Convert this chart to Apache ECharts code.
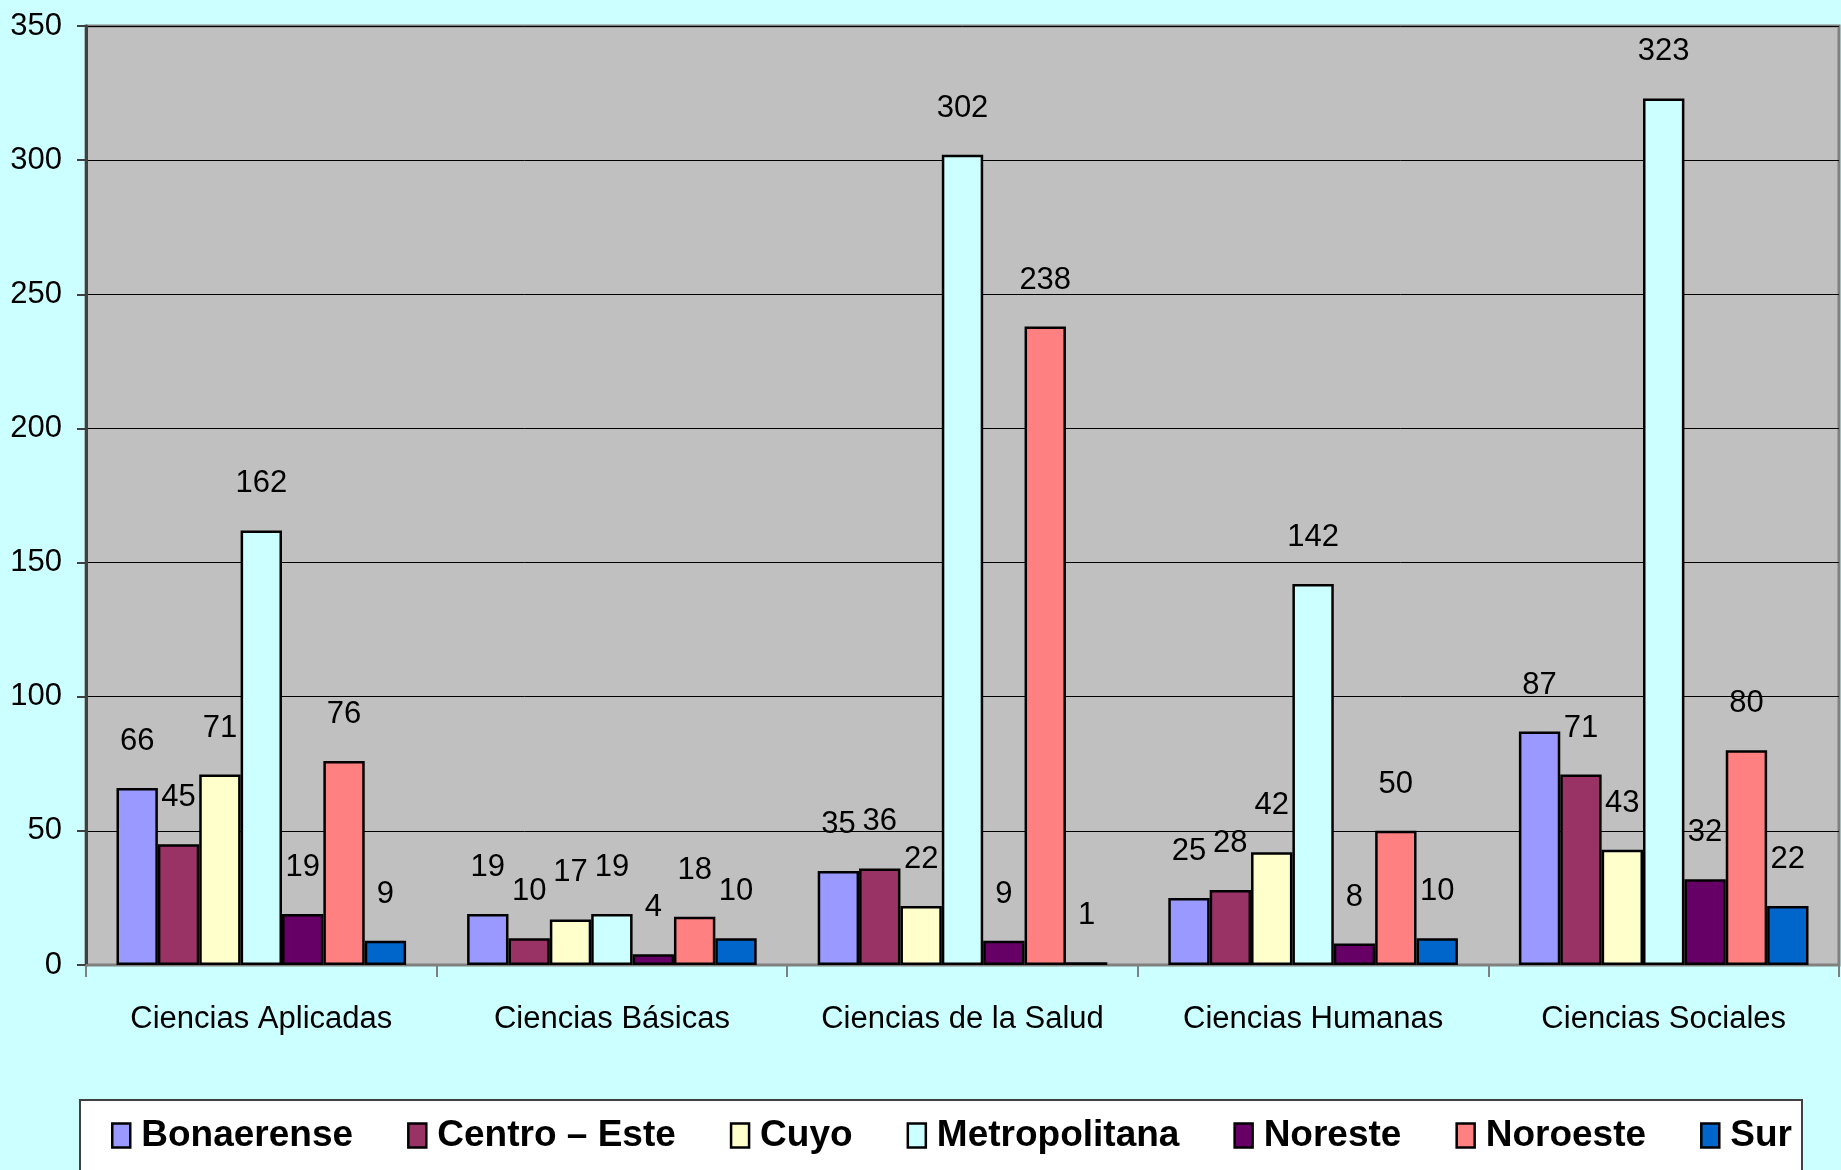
<!DOCTYPE html>
<html>
<head>
<meta charset="utf-8">
<script src="https://cdn.jsdelivr.net/npm/echarts@6/dist/echarts.min.js"></script>
<style>
html,body{margin:0;padding:0;background:#CCFFFF;}
#c{width:1841px;height:1170px;}
</style>
</head>
<body>
<div id="c"></div>
<script>
const categories = ['Ciencias Aplicadas', 'Ciencias Básicas', 'Ciencias de la Salud', 'Ciencias Humanas', 'Ciencias Sociales'];
const seriesNames = ['Bonaerense', 'Centro – Este', 'Cuyo', 'Metropolitana', 'Noreste', 'Noroeste', 'Sur'];
const bonaerense = [66, 19, 35, 25, 87];
const centroEste = [45, 10, 36, 28, 71];
const cuyo = [71, 17, 22, 42, 43];
const metropolitana = [162, 19, 302, 142, 323];
const noreste = [19, 4, 9, 8, 32];
const noroeste = [76, 18, 238, 50, 80];
const sur = [9, 10, 1, 10, 22];
const yTicks = [0, 50, 100, 150, 200, 250, 300, 350];

const seriesValues = [bonaerense, centroEste, cuyo, metropolitana, noreste, noroeste, sur];
const colors = ['#9999FF', '#993366', '#FFFFCC', '#CCFFFF', '#660066', '#FF8080', '#0066CC'];
const FONT = "'Liberation Sans Narrow', 'Arial Narrow', 'Liberation Sans', Arial, sans-serif";

const chart = echarts.init(document.getElementById('c'), null, {renderer: 'canvas'});
chart.setOption({
  backgroundColor: '#CCFFFF',
  animation: false,
  color: colors,
  graphic: [{
    type: 'rect',
    shape: {x: 80, y: 1100, width: 1722, height: 90},
    style: {fill: '#FFFFFF', stroke: '#404040', lineWidth: 2},
    z: 0
  }],
  grid: {
    left: 86, right: 2, top: 26, bottom: 205,
    containLabel: false,
    show: true,
    backgroundColor: '#C0C0C0',
    borderColor: '#808080',
    borderWidth: 3
  },
  legend: {
    data: seriesNames,
    left: 106,
    top: 1112,
    itemGap: 54,
    itemWidth: 18,
    itemHeight: 24,
    icon: 'rect',
    itemStyle: {borderColor: '#000', borderWidth: 2.5},
    textStyle: {fontFamily: FONT, fontWeight: 'bold', fontSize: 37, color: '#000', padding: [0, 0, 0, 6]},
    z: 5
  },
  xAxis: {
    type: 'category',
    data: categories,
    axisLine: {show: true, lineStyle: {color: '#808080', width: 2}},
    axisTick: {show: true, length: 12, interval: 0, lineStyle: {color: '#808080', width: 2}},
    axisLabel: {fontFamily: FONT, fontSize: 31, color: '#000', margin: 39, interval: 0},
    splitLine: {show: false}
  },
  yAxis: {
    type: 'value',
    min: 0, max: 350, interval: 50,
    axisLine: {show: true, lineStyle: {color: '#404040', width: 3}},
    axisTick: {show: true, length: 9, lineStyle: {color: '#404040', width: 2}},
    axisLabel: {fontFamily: FONT, fontSize: 31, color: '#000', margin: 24,
      formatter: v => yTicks.includes(v) ? String(v) : ''},
    splitLine: {show: true, lineStyle: {color: '#000', width: 1}}
  },
  series: seriesNames.map((name, i) => ({
    name: name,
    type: 'bar',
    data: seriesValues[i],
    barGap: '0%',
    barCategoryGap: '17.4%',
    itemStyle: {color: colors[i], borderColor: '#000', borderWidth: 2.5},
    label: {show: true, position: 'top', distance: 31, fontFamily: FONT, fontSize: 31, color: '#000'}
  }))
});
</script>
</body>
</html>
